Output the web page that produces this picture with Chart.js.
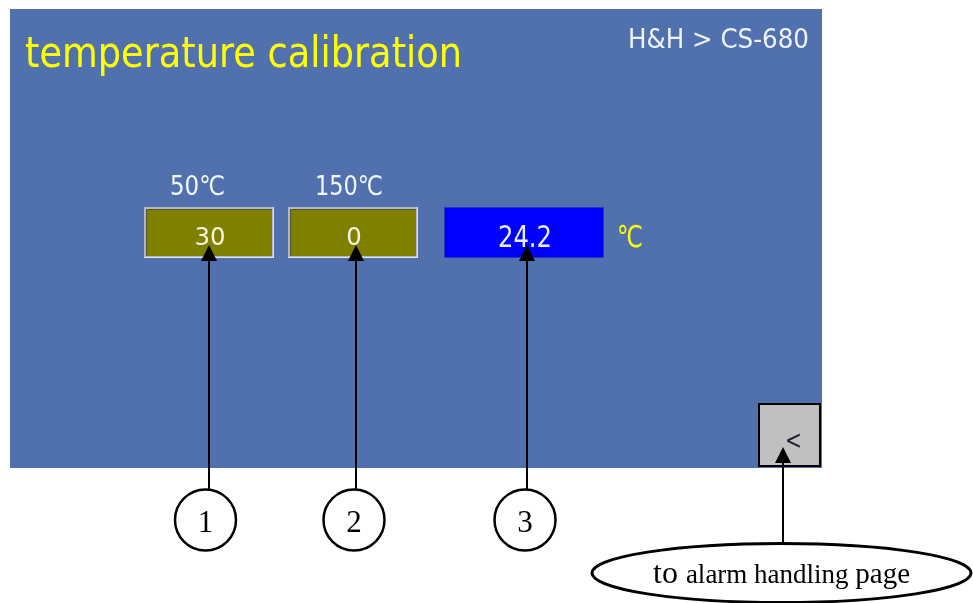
<!DOCTYPE html>
<html>
<head>
<meta charset="utf-8">
<title>temperature calibration</title>
<script src="https://cdn.jsdelivr.net/npm/chart.js@4.4.1/dist/chart.umd.min.js"></script>
<style>
  html, body { margin: 0; padding: 0; background: #fff; }
  canvas { display: block; }
</style>
</head>
<body>
<canvas id="screen" width="973" height="603"></canvas>
<script>
// data shown on the HMI page
const titleText = 'temperature calibration';
const crumbText = 'H&H > CS-680';
const pointLabels = ['50℃', '150℃'];
const offsetValues = [30, 0];
const currentTemp = [24.2];
const unitText = '℃';
const calloutNumbers = ['1', '2', '3'];
const navWords = ['to', 'alarm handling', 'page'];

const SANS = "'DejaVu Sans', sans-serif";
const SERIF = "'Liberation Serif', 'Times New Roman', serif";

// text at a given size, squeezed sideways to a given width (Tahoma is narrower)
const squashText = (ctx, text, x, y, size, width, align) => {
  ctx.font = size + 'px ' + SANS;
  const k = width / ctx.measureText(text).width;
  ctx.save();
  ctx.translate(x, y);
  ctx.scale(k, 1);
  ctx.textAlign = align || 'left';
  ctx.fillText(text, 0, 0);
  ctx.restore();
};

const arrowUp = (ctx, x, tip, bottom) => {
  ctx.strokeStyle = '#000';
  ctx.fillStyle = '#000';
  ctx.lineWidth = 2;
  ctx.beginPath();
  ctx.moveTo(x, bottom);
  ctx.lineTo(x, tip + 12);
  ctx.stroke();
  ctx.beginPath();
  ctx.moveTo(x, tip);
  ctx.lineTo(x - 8, tip + 16);
  ctx.lineTo(x + 8, tip + 16);
  ctx.closePath();
  ctx.fill();
};

const bevelBox = (ctx, x, y, w, h) => {
  ctx.fillStyle = '#E4E6EC';
  ctx.fillRect(x, y, w, h);
  ctx.fillStyle = '#B4B8C4';
  ctx.fillRect(x, y, w - 1, h - 1);
  ctx.fillStyle = '#55552E';
  ctx.fillRect(x + 2, y + 2, w - 4, h - 4);
  ctx.fillStyle = '#808000';
  ctx.fillRect(x + 3, y + 3, w - 5, h - 5);
};

const hmiPage = {
  id: 'hmiPage',
  afterDraw(chart) {
    const ctx = chart.ctx;
    const sx = v => chart.scales.x.getPixelForValue(v);
    const sy = v => chart.scales.y.getPixelForValue(v);

    ctx.save();
    ctx.textBaseline = 'alphabetic';

    // panel
    ctx.fillStyle = '#5171AE';
    ctx.fillRect(sx(10), sy(9), sx(822) - sx(10), sy(468) - sy(9));

    // title
    ctx.fillStyle = '#FFFF00';
    squashText(ctx, titleText, sx(25), sy(67), 42, 437, 'left');

    // breadcrumb
    ctx.fillStyle = '#EEF3FF';
    squashText(ctx, crumbText, sx(809), sy(48), 27, 181, 'right');

    // calibration fields
    const boxLeft = [144, 288];
    const labelMid = [197.5, 349];
    const labelWidth = [55, 68];
    pointLabels.forEach((lab, i) => {
      ctx.fillStyle = '#F2F6FF';
      squashText(ctx, lab, sx(labelMid[i]), sy(195), 27, labelWidth[i], 'center');

      bevelBox(ctx, sx(boxLeft[i]), sy(207), 130, 51);
      const txt = String(offsetValues[i]);
      ctx.fillStyle = '#F4F2DC';
      squashText(ctx, txt, sx(boxLeft[i] + 66), sy(245), 25, 15.5 * txt.length, 'center');
    });

    // current temperature
    ctx.fillStyle = '#0000FF';
    ctx.fillRect(sx(444), sy(207), 160, 51);
    ctx.strokeStyle = '#2B35B8';
    ctx.lineWidth = 1;
    ctx.strokeRect(sx(444) + 0.5, sy(207) + 0.5, 159, 50);
    ctx.fillStyle = '#ECECFF';
    squashText(ctx, currentTemp[0].toFixed(1), sx(525), sy(247), 30, 54, 'center');

    ctx.fillStyle = '#FFFF00';
    squashText(ctx, unitText, sx(617), sy(247), 30, 26, 'left');

    // back button
    ctx.fillStyle = '#C0C0C0';
    ctx.fillRect(sx(758), sy(403), 63, 64);
    ctx.strokeStyle = '#000';
    ctx.lineWidth = 2;
    ctx.strokeRect(sx(759), sy(404), 61, 62);
    ctx.fillStyle = '#1E2036';
    squashText(ctx, '<', sx(793.5), sy(449), 27, 17, 'center');

    // callouts
    const arrowX = [209, 356, 527];
    const circleX = [205.5, 354, 525];
    calloutNumbers.forEach((n, i) => {
      arrowUp(ctx, sx(arrowX[i]), sy(245), sy(489));
      ctx.strokeStyle = '#000';
      ctx.lineWidth = 2.5;
      ctx.beginPath();
      ctx.arc(sx(circleX[i]), sy(520), 30.5, 0, Math.PI * 2);
      ctx.stroke();
      ctx.fillStyle = '#000';
      ctx.textAlign = 'center';
      ctx.font = '31px ' + SERIF;
      ctx.fillText(n, sx(circleX[i]), sy(532));
    });

    arrowUp(ctx, sx(783), sy(447), sy(543));
    ctx.strokeStyle = '#000';
    ctx.lineWidth = 3;
    ctx.beginPath();
    ctx.ellipse(sx(781.5), sy(573), 189.5, 29.5, 0, 0, Math.PI * 2);
    ctx.stroke();

    const navSizes = [32, 27, 29];
    ctx.fillStyle = '#000';
    ctx.textAlign = 'left';
    let x = sx(653);
    navWords.forEach((w, i) => {
      ctx.font = navSizes[i] + 'px ' + SERIF;
      ctx.fillText(w, x, sy(583));
      x += ctx.measureText(w + ' ').width;
    });

    ctx.restore();
  }
};

const chart = new Chart(document.getElementById('screen'), {
  type: 'scatter',
  data: { datasets: [] },
  options: {
    responsive: false,
    animation: false,
    devicePixelRatio: 1,
    events: [],
    layout: { padding: 0 },
    plugins: { legend: { display: false }, tooltip: { enabled: false } },
    scales: {
      x: { type: 'linear', min: 0, max: 973, display: false },
      y: { type: 'linear', min: 0, max: 603, reverse: true, display: false }
    }
  },
  plugins: [hmiPage]
});
</script>
</body>
</html>
